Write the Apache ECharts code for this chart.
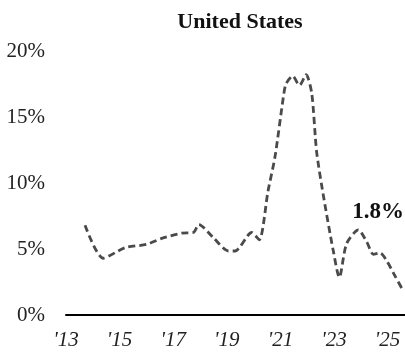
<!DOCTYPE html>
<html>
<head>
<meta charset="utf-8">
<script src="https://cdn.jsdelivr.net/npm/echarts@6/dist/echarts.min.js"></script>
<style>
  html, body { margin: 0; padding: 0; background: #fff; }
  #chart { width: 405px; height: 352px; }
</style>
</head>
<body>
<div id="chart"></div>
<script>
const years = [
  2013.71, 2014.39, 2015.2, 2016.01, 2016.57, 2017.32, 2017.75, 2017.96,
  2018.5, 2019.06, 2019.31, 2019.93, 2020.21, 2020.54, 2020.8, 2021.11,
  2021.21, 2021.46, 2021.71, 2021.96, 2022.17, 2022.35, 2022.6, 2022.97,
  2023.2, 2023.47, 2023.91, 2024.22, 2024.47, 2024.72, 2024.97, 2025.28, 2025.59
];
const growth = [
  6.8, 4.3, 5.1, 5.35, 5.8, 6.2, 6.25, 6.85,
  5.85, 4.85, 4.85, 6.25, 5.7, 9.4, 12.0, 16.5,
  17.5, 18.1, 17.4, 18.2, 16.8, 12.4, 9.1, 4.9,
  2.85, 5.4, 6.45, 5.55, 4.6, 4.7, 4.1, 2.95, 1.8
];
const yTicks = [0, 5, 10, 15, 20];
const lastLabel = "1.8%";

const serif = "'Liberation Serif', 'Times New Roman', serif";
const myChart = echarts.init(document.getElementById("chart"));

const option = {
  animation: false,
  title: {
    text: "United States",
    left: 235,
    textAlign: "center",
    top: 6,
    textStyle: { fontFamily: serif, fontWeight: "bold", fontSize: 22, color: "#111" },
  },
  grid: { left: 66, right: 0, top: 51, bottom: 37 },
  xAxis: {
    type: "value",
    min: 2013,
    max: 2025.65,
    interval: 2,
    axisLine: { show: true, lineStyle: { color: "#000", width: 2 } },
    axisTick: { show: false },
    splitLine: { show: false },
    axisLabel: {
      showMaxLabel: false,
      margin: 15,
      fontFamily: serif,
      fontStyle: "italic",
      fontSize: 21,
      color: "#222",
      formatter: (v) => "'" + String(v).slice(2),
    },
  },
  yAxis: {
    type: "value",
    min: yTicks[0],
    max: yTicks[yTicks.length - 1],
    interval: 5,
    axisLine: { show: false },
    axisTick: { show: false },
    splitLine: { show: false },
    axisLabel: {
      margin: 21,
      fontFamily: serif,
      fontSize: 21,
      color: "#222",
      formatter: (v) => v + "%",
    },
  },
  series: [
    {
      type: "line",
      data: years.map((y, i) => [y, growth[i]]),
      smooth: 0.25,
      showSymbol: false,
      lineStyle: { color: "#4a4a4a", width: 2.8, type: [7, 4] },
    },
  ],
  graphic: [
    {
      type: "text",
      right: 1,
      top: 201,
      style: {
        text: lastLabel,
        font: "bold 23px " + serif,
        fill: "#111",
      },
    },
  ],
};

myChart.setOption(option);
</script>
</body>
</html>
